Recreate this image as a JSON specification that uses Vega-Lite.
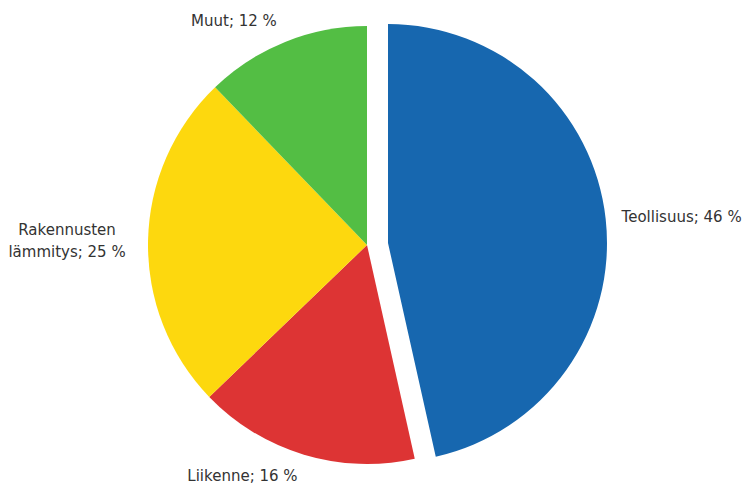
{
  "$schema": "https://vega.github.io/schema/vega-lite/v6.json",
  "width": 734,
  "height": 482,
  "autosize": {"type": "none"},
  "padding": {"left": 0, "right": 16, "top": 4, "bottom": 0},
  "background": "white",
  "view": {"stroke": null},
  "data": {
    "values": [
      {"o": 1, "k": "Teollisuus", "v": 46.5, "label": "Teollisuus; 46 %"},
      {"o": 2, "k": "Liikenne", "v": 16.3, "label": "Liikenne; 16 %"},
      {"o": 3, "k": "Rakennusten lämmitys", "v": 25.0, "label": "Rakennusten\nlämmitys; 25 %"},
      {"o": 4, "k": "Muut", "v": 12.2, "label": "Muut; 12 %"}
    ]
  },
  "encoding": {
    "theta": {"field": "v", "type": "quantitative", "stack": true},
    "order": {"field": "o", "type": "quantitative"}
  },
  "layer": [
    {
      "mark": {"type": "arc", "outerRadius": 219},
      "encoding": {
        "color": {"field": "k", "type": "nominal", "legend": null,
          "scale": {"domain": ["Teollisuus", "Liikenne", "Rakennusten lämmitys", "Muut"],
                    "range": ["#1767AF", "#DD3434", "#FDD80E", "#53BE44"]}},
        "opacity": {"condition": {"test": "datum.k === 'Teollisuus'", "value": 0}, "value": 1}
      }
    },
    {
      "mark": {"type": "arc", "outerRadius": 219, "xOffset": 21, "yOffset": -2},
      "encoding": {
        "color": {"field": "k", "type": "nominal", "legend": null},
        "opacity": {"condition": {"test": "datum.k === 'Teollisuus'", "value": 1}, "value": 0}
      }
    },
    {
      "mark": {"type": "text", "align": "right", "baseline": "middle", "font": "DejaVu Sans", "fontSize": 15, "color": "#333333", "lineBreak": "\n"},
      "encoding": {
        "radius": {"value": 241},
        "text": {"condition": {"test": "datum.k === 'Liikenne' || datum.k === 'Muut'", "field": "label"}, "value": ""}
      }
    },
    {
      "mark": {"type": "text", "align": "center", "baseline": "middle", "font": "DejaVu Sans", "fontSize": 15, "color": "#333333", "lineBreak": "\n", "lineHeight": 22, "yOffset": -9},
      "encoding": {
        "radius": {"value": 300},
        "text": {"condition": {"test": "datum.k === 'Rakennusten lämmitys'", "field": "label"}, "value": ""}
      }
    },
    {
      "mark": {"type": "text", "align": "left", "baseline": "middle", "font": "DejaVu Sans", "fontSize": 15, "color": "#333333", "xOffset": 21, "yOffset": -2},
      "encoding": {
        "radius": {"value": 235},
        "text": {"condition": {"test": "datum.k === 'Teollisuus'", "field": "label"}, "value": ""}
      }
    }
  ]
}
